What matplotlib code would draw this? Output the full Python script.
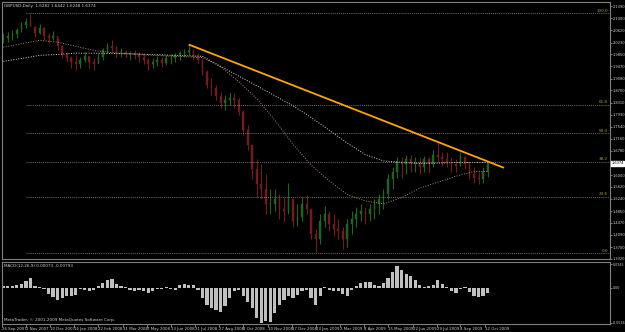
import pandas as pd
import matplotlib
matplotlib.use('Agg')
import matplotlib.pyplot as plt
import matplotlib.dates as mdates

plt.rcParams['font.family'] = ['Liberation Sans Narrow', 'DejaVu Sans']

# %% Data (weekly summary)
weeks = pd.date_range('2007-09-28', periods=108, freq='W-FRI')

high = [2.054, 2.057, 2.063, 2.070, 2.089, 2.101, 2.114, 2.076, 2.082, 2.070,
        2.054, 2.060, 2.038, 2.016, 1.993, 1.981, 1.984, 1.977, 1.993, 1.981,
        1.974, 1.990, 2.006, 2.022, 2.032, 2.012, 2.006, 2.000, 1.996, 2.000,
        1.993, 1.987, 1.974, 1.974, 1.981, 1.977, 1.984, 1.987, 1.990, 1.996,
        2.003, 2.016, 2.000, 1.990, 1.968, 1.936, 1.910, 1.888, 1.866, 1.856,
        1.866, 1.863, 1.847, 1.809, 1.761, 1.681, 1.650, 1.634, 1.602, 1.554,
        1.554, 1.538, 1.529, 1.576, 1.522, 1.506, 1.529, 1.535, 1.474, 1.427,
        1.474, 1.500, 1.484, 1.474, 1.458, 1.433, 1.458, 1.484, 1.497, 1.506,
        1.497, 1.506, 1.522, 1.538, 1.554, 1.602, 1.624, 1.656, 1.659, 1.665,
        1.665, 1.656, 1.659, 1.662, 1.656, 1.681, 1.704, 1.675, 1.672, 1.656,
        1.650, 1.672, 1.662, 1.640, 1.624, 1.611, 1.624, 1.643]
low = [2.022, 2.025, 2.032, 2.038, 2.057, 2.070, 2.076, 2.041, 2.051, 2.032,
       2.022, 2.032, 2.000, 1.974, 1.962, 1.942, 1.936, 1.942, 1.962, 1.942,
       1.936, 1.958, 1.968, 1.990, 1.993, 1.977, 1.977, 1.974, 1.968, 1.971,
       1.962, 1.955, 1.936, 1.942, 1.949, 1.946, 1.952, 1.955, 1.962, 1.968,
       1.977, 1.984, 1.968, 1.958, 1.920, 1.879, 1.857, 1.840, 1.815, 1.809,
       1.825, 1.815, 1.793, 1.729, 1.681, 1.586, 1.529, 1.522, 1.474, 1.474,
       1.484, 1.458, 1.452, 1.474, 1.433, 1.436, 1.452, 1.474, 1.395, 1.354,
       1.379, 1.433, 1.420, 1.404, 1.395, 1.363, 1.369, 1.411, 1.433, 1.452,
       1.443, 1.452, 1.458, 1.474, 1.490, 1.522, 1.554, 1.592, 1.592, 1.602,
       1.611, 1.608, 1.602, 1.611, 1.605, 1.624, 1.643, 1.628, 1.624, 1.611,
       1.611, 1.628, 1.618, 1.586, 1.576, 1.570, 1.573, 1.594]
close = [2.038, 2.044, 2.051, 2.063, 2.079, 2.089, 2.073, 2.054, 2.070, 2.044,
         2.038, 2.044, 2.012, 1.984, 1.974, 1.962, 1.955, 1.968, 1.981, 1.962,
         1.955, 1.977, 2.000, 2.012, 2.006, 1.993, 1.993, 1.987, 1.987, 1.984,
         1.977, 1.968, 1.955, 1.962, 1.968, 1.958, 1.974, 1.974, 1.984, 1.990,
         1.993, 2.000, 1.977, 1.968, 1.930, 1.888, 1.879, 1.853, 1.831, 1.840,
         1.847, 1.840, 1.802, 1.745, 1.697, 1.618, 1.570, 1.554, 1.506, 1.506,
         1.522, 1.490, 1.484, 1.522, 1.452, 1.465, 1.506, 1.490, 1.411, 1.395,
         1.452, 1.474, 1.443, 1.427, 1.420, 1.395, 1.443, 1.458, 1.474, 1.484,
         1.474, 1.490, 1.506, 1.522, 1.538, 1.586, 1.611, 1.643, 1.634, 1.650,
         1.634, 1.640, 1.624, 1.650, 1.634, 1.665, 1.656, 1.650, 1.643, 1.634,
         1.630, 1.656, 1.634, 1.602, 1.592, 1.586, 1.611, 1.6374]
first_open = 2.030

macd_hist = [0.0030, 0.0030, 0.0030, 0.0038, 0.0060, 0.0105, 0.0150, 0.0030, 0.0008, -0.0015,
             -0.0090, -0.0135, -0.0180, -0.0150, -0.0120, -0.0120, -0.0105, -0.0015, -0.0030, -0.0045,
             -0.0030, 0.0030, 0.0075, 0.0120, 0.0135, 0.0060, 0.0030, 0.0015, -0.0030, -0.0045,
             -0.0030, -0.0045, -0.0075, -0.0045, -0.0015, -0.0015, 0.0015, -0.0015, -0.0030, 0.0045,
             0.0060, 0.0045, 0.0045, -0.0030, -0.0150, -0.0255, -0.0300, -0.0330, -0.0360, -0.0270,
             -0.0150, -0.0045, -0.0030, -0.0120, -0.0210, -0.0300, -0.0450, -0.0525, -0.0495, -0.0510,
             -0.0375, -0.0255, -0.0180, -0.0120, -0.0150, -0.0105, -0.0045, -0.0030, -0.0150, -0.0255,
             -0.0120, 0.0015, -0.0030, -0.0045, -0.0045, -0.0090, -0.0120, -0.0030, 0.0030, 0.0075,
             0.0090, 0.0090, 0.0045, 0.0030, 0.0075, 0.0150, 0.0225, 0.0315, 0.0255, 0.0210,
             0.0180, 0.0120, 0.0045, 0.0008, 0.0030, 0.0045, 0.0120, 0.0060, 0.0008, -0.0045,
             -0.0075, -0.0015, 0.0015, -0.0060, -0.0120, -0.0135, -0.0120, -0.0075]

# moving averages, sampled every 4 weeks (+ last week)
ma_idx = list(range(0, 108, 4)) + [107]
ma_fast = [2.008, 2.019, 2.030, 2.024, 2.011, 1.998, 1.991, 1.987, 1.983, 1.980,
           1.978, 1.975, 1.946, 1.898, 1.844, 1.775, 1.698, 1.632, 1.581, 1.538,
           1.517, 1.508, 1.528, 1.558, 1.577, 1.596, 1.611, 1.611]
ma_slow = [1.963, 1.972, 1.982, 1.985, 1.989, 1.989, 1.988, 1.987, 1.985, 1.983,
           1.981, 1.979, 1.947, 1.916, 1.885, 1.853, 1.821, 1.784, 1.743, 1.702,
           1.665, 1.645, 1.640, 1.637, 1.638, 1.640, 1.640, 1.640]

fib_high = 2.1161
fib_low = 1.3503
fib_levels = [100.0, 61.8, 50.0, 38.2, 23.6, 0.0]
fib_start = '2007-11-02'

trend_dates = ['2008-07-12', '2009-11-09']
trend_prices = [2.0156, 1.6240]

price_labels = ['2.1390', '2.1000', '2.0620', '2.0230', '1.9850', '1.9470', '1.9080',
                '1.8700', '1.8310', '1.7930', '1.7540', '1.7160', '1.6780', '1.6000',
                '1.5620', '1.5240', '1.4850', '1.4470', '1.4090', '1.3700', '1.3320']
last_price = 1.6374

macd_ticks = [0.0345, 0.0, -0.0520]
macd_labels = ['0.0345', '0.00', '-0.0536']

date_labels = ['26 Sep 2007', '2 Nov 2007', '10 Dec 2007', '16 Jan 2008', '22 Feb 2008',
               '31 Mar 2008', '7 May 2008', '13 Jun 2008', '21 Jul 2008', '27 Aug 2008',
               '3 Oct 2008', '10 Nov 2008', '17 Dec 2008', '23 Jan 2009', '2 Mar 2009',
               '8 Apr 2009', '15 May 2009', '22 Jun 2009', '29 Jul 2009', '4 Sep 2009',
               '12 Oct 2009']

# %% Figure
W, H = 625, 332
fs = 3.0
fs_r = 2.6
fig = plt.figure(figsize=(W / 100, H / 100), dpi=100, facecolor='black')
ax = fig.add_axes([2 / W, 1 - 259 / H, 608 / W, 257 / H], facecolor='black')
ax2 = fig.add_axes([2 / W, 1 - 324 / H, 608 / W, 62 / H], facecolor='black', sharex=ax)

x0 = mdates.date2num(pd.Timestamp('2007-09-26'))
ax.set_xlim(x0, x0 + 940.3)
ax.set_ylim(1.3318, 2.1524)

# candles
opens = [first_open] + close[:-1]
up = [c >= o for o, c in zip(opens, close)]
cols = ['#1d661d' if u else '#741c1c' for u in up]
ax.vlines(weeks, low, high, colors=cols, lw=0.8)
ax.bar(weeks, [c - o for o, c in zip(opens, close)], bottom=opens, width=2.6,
       color=cols, edgecolor=cols, lw=0.3)

# moving averages
ax.plot(weeks[ma_idx], ma_slow, color='#d8d8d8', lw=0.7, ls=(0, (1, 1.6)))
ax.plot(weeks[ma_idx], ma_fast, color='#b08a62', lw=0.7, ls=(0, (1, 1.6)))

# fibonacci
fx = mdates.date2num(pd.Timestamp(fib_start))
for lv in fib_levels:
    p = fib_low + (fib_high - fib_low) * lv / 100
    ax.hlines(p, fx, x0 + 940.3, colors='#9a9a9a', lw=0.6, linestyles=(0, (1, 1.5)))
    ax.text(x0 + 937, p + 0.002, '%.1f' % lv, color='#a8a040', fontsize=fs,
            ha='right', va='bottom')

# trendline
ax.plot(pd.to_datetime(trend_dates), trend_prices, color='#ffa500', lw=1.3)

# right price axis
ax.yaxis.tick_right()
ax.set_yticks([float(s) for s in price_labels])
ax.set_yticklabels(price_labels)
ax.tick_params(axis='y', colors='#b0b0b0', labelcolor='#d0d0d0', labelsize=fs_r,
               length=1.5, width=0.5, pad=0.5)
ax.tick_params(axis='x', bottom=False, labelbottom=False)
ax.text(1.0025, last_price, '%.4f' % last_price, transform=ax.get_yaxis_transform(),
        fontsize=fs_r, color='black', va='center', ha='left',
        bbox=dict(boxstyle='square,pad=0.15', fc='white', ec='white'))
for s in ax.spines.values():
    s.set_color('#808080')
    s.set_linewidth(0.8)

ax.text(0.003, 0.992, 'GBPUSD,Daily  1.6282 1.6442 1.6248 1.6374', transform=ax.transAxes,
        fontsize=fs, color='#d0d0d0', va='top', ha='left')

# MACD window
ax2.bar(weeks, macd_hist, width=5, color='#c0c0c0', lw=0)
ax2.set_ylim(-0.0536, 0.038)
ax2.yaxis.tick_right()
ax2.set_yticks(macd_ticks)
ax2.set_yticklabels(macd_labels)
ax2.tick_params(axis='y', colors='#b0b0b0', labelcolor='#d0d0d0', labelsize=2.3,
                length=1.5, width=0.5, pad=0.4)
ax2.set_xticks(pd.to_datetime(date_labels, format='%d %b %Y'))
ax2.set_xticklabels(date_labels)
ax2.tick_params(axis='x', colors='#b0b0b0', labelcolor='#d0d0d0', labelsize=2.8,
                length=2, width=0.5, pad=0.5)
plt.setp(ax2.get_xticklabels(), ha='left')
for s in ax2.spines.values():
    s.set_color('#808080')
    s.set_linewidth(0.8)
ax2.text(0.003, 0.97, 'MACD(12,26,9) 0.00073 -0.00793', transform=ax2.transAxes,
         fontsize=fs, color='#d0d0d0', va='top', ha='left')
ax2.text(0.003, 0.03, 'MetaTrader, \u00a9 2001-2009 MetaQuotes Software Corp.',
         transform=ax2.transAxes, fontsize=fs, color='#d0d0d0', va='bottom', ha='left')

fig.savefig('out.png', dpi=100, facecolor='black')
